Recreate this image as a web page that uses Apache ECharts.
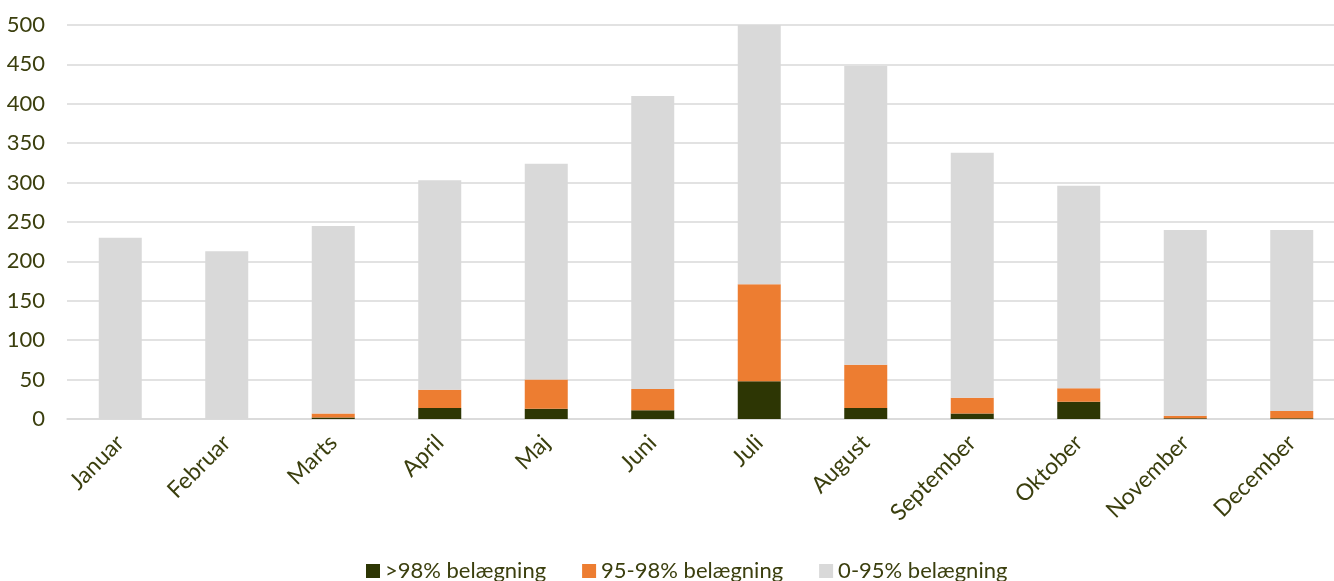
<!DOCTYPE html>
<html><head><meta charset="utf-8">
<script src="https://cdn.jsdelivr.net/npm/echarts@6/dist/echarts.min.js"></script>
<style>html,body{margin:0;padding:0;background:#fff}#c{width:1334px;height:581px}</style>
</head><body><div id="c"></div>
<script>
const categories = ['Januar','Februar','Marts','April','Maj','Juni','Juli','August','September','Oktober','November','December'];
const over98 = [0,0,2,14,13,11,48,14,7,22,1,1];
const from95to98 = [0,0,5,23,37,27,123,55,20,17,3,9];
const upto95 = [230,213,238,266,274,372,329,379,311,257,236,230];
const seriesNames = ['>98% belægning','95-98% belægning','0-95% belægning'];
const colors = ['#2d3604','#ed7d31','#d9d9d9'];
const txt = '#3b3f0e';
const font = 'Lato';
const chart = echarts.init(document.getElementById('c'));
const mk = (name, data, i) => ({name, type:'bar', stack:'a', data, barWidth:43, itemStyle:{color:colors[i]}, emphasis:{disabled:true}});
chart.setOption({
  animation:false,
  textStyle:{fontFamily:font},
  grid:{left:67, width:1278, top:25, bottom:162, containLabel:false, outerBoundsMode:'none'},
  legend:{bottom:-6, left:361, itemWidth:14, itemHeight:14, itemGap:36, icon:'rect',
    textStyle:{color:txt, fontSize:22, fontFamily:font}, data:seriesNames},
  xAxis:{type:'category', data:categories,
    axisLine:{lineStyle:{color:'#d9d9d9', width:1.5}}, axisTick:{show:false},
    axisLabel:{rotate:45, color:txt, fontSize:23, fontFamily:font, margin:20, interval:0}},
  yAxis:{type:'value', min:0, max:500, interval:50,
    axisLine:{show:false}, axisTick:{show:false},
    splitLine:{lineStyle:{color:'#d9d9d9', width:1.5}},
    axisLabel:{color:txt, fontSize:22, fontFamily:font, margin:22}},
  series:[mk(seriesNames[0], over98, 0), mk(seriesNames[1], from95to98, 1), mk(seriesNames[2], upto95, 2)]
});
</script></body></html>
